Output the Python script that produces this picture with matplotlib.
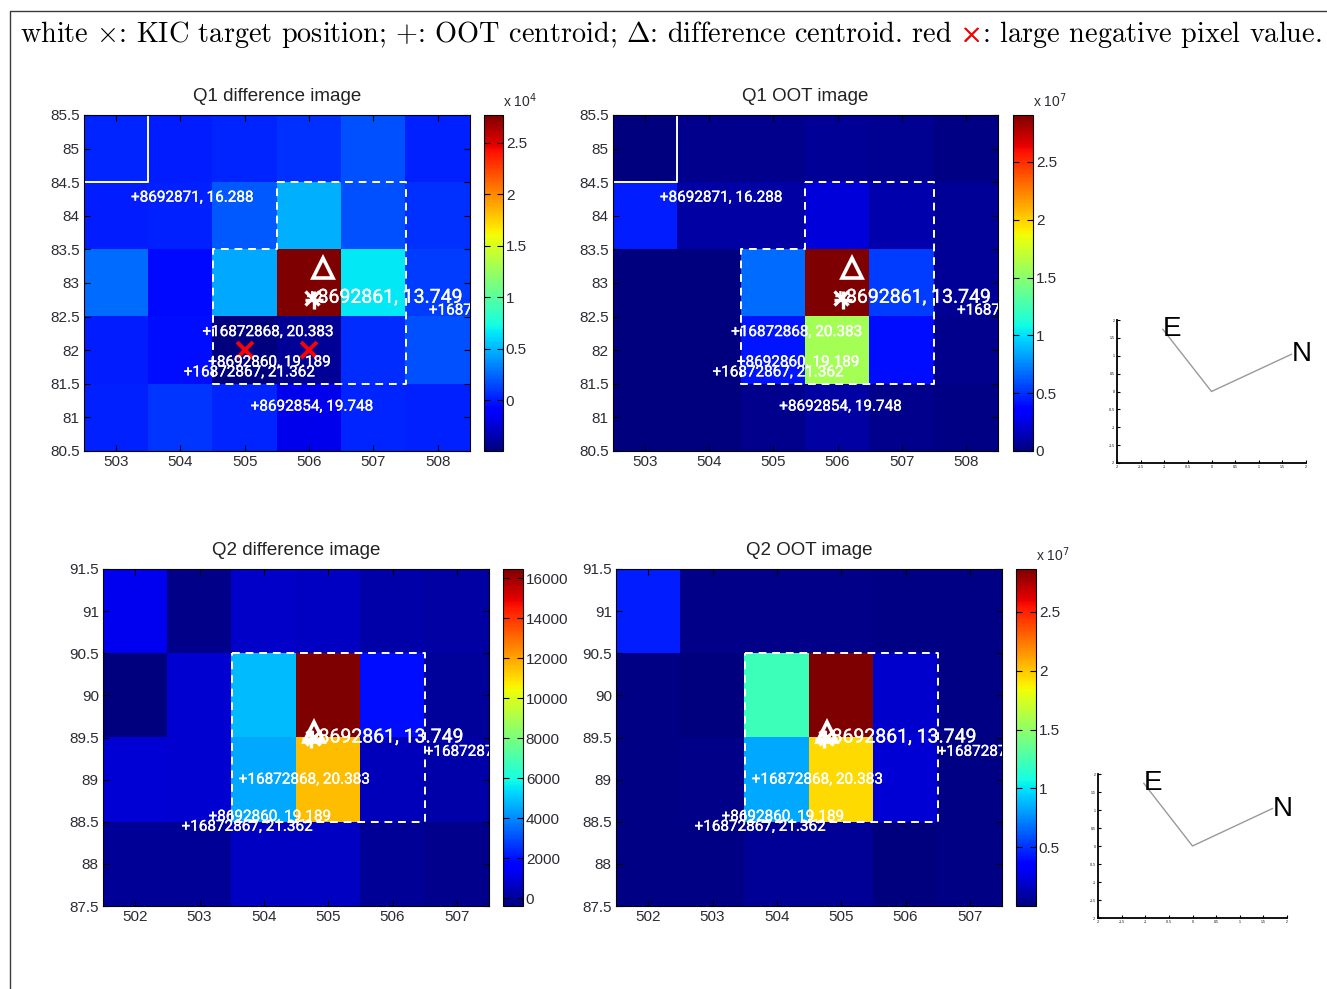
import numpy as np
import matplotlib
matplotlib.use("Agg")
import matplotlib.pyplot as plt
from matplotlib import patheffects as pe
from matplotlib.lines import Line2D

# ---------------- data ----------------
q1_cols = [503, 504, 505, 506, 507, 508]
q1_rows = [85, 84, 83, 82, 81]          # top -> bottom
q2_cols = [502, 503, 504, 505, 506, 507]
q2_rows = [91, 90, 89, 88]              # top -> bottom

q1_diff = [
    [400, 100, 400, 700, 1800, 250],
    [100, 250, 2000, 4750, 1700, 700],
    [2700, -600, 4600, 27700, 6650, 1050],
    [100, -400, -4950, -4300, 600, 1700],
    [250, 900, 400, -1800, 400, 250],
]
q1_oot = [
    [80000, 350000, 350000, 640000, 500000, 215000],
    [4480000, 930000, 930000, 2360000, 1220000, 640000],
    [0, 60000, 6770000, 29050000, 5350000, 640000],
    [60000, 80000, 4200000, 15900000, 4000000, 355000],
    [80000, 80000, 350000, 930000, 350000, 215000],
]
q2_diff = [
    [1300, -250, 710, 630, 220, 140],
    [-400, 800, 4850, 16450, 1960, 60],
    [880, 800, 4520, 11550, 460, 220],
    [-30, -30, 630, 630, -30, -190],
]
q2_oot = [
    [4410000, 350000, 350000, 350000, 212000, 212000],
    [212000, 72000, 12100000, 28640000, 2030000, 212000],
    [212000, 350000, 8360000, 19400000, 2180000, 212000],
    [212000, 212000, 630000, 630000, 20000, 212000],
]

# nearby stars (label, x, y)
q1_star_labels = ["+8692871, 16.288", "+16872868, 20.383", "+8692860, 19.189",
                  "+16872867, 21.362", "+8692854, 19.748", "+16872872, 20.95"]
q1_star_x = [503.30, 504.41, 504.50, 504.12, 505.16, 507.93]
q1_star_y = [84.27, 82.27, 81.82, 81.67, 81.16, 82.59]
q2_star_labels = ["+16872868, 20.383", "+8692860, 19.189", "+16872867, 21.362",
                  "+16872872, 20.95"]
q2_star_x = [503.68, 503.21, 502.79, 506.57]
q2_star_y = [89.00, 88.56, 88.44, 89.33]

target_label = "+8692861, 13.749"
q1_target = (506.05, 82.78)
q1_oot_centroid = (506.08, 82.74)
q1_diff_centroid = (506.22, 83.22)
q1_neg_x = [505.0, 506.0]
q1_neg_y = [82.0, 82.0]
q2_target = (504.77, 89.50)
q2_oot_centroid = (504.74, 89.48)
q2_diff_centroid = (504.78, 89.56)

q1_ap_solid_x = [503.5, 503.5, 502.5]
q1_ap_solid_y = [85.5, 84.5, 84.5]
q1_ap_dash_x = [505.5, 507.5, 507.5, 504.5, 504.5, 505.5, 505.5]
q1_ap_dash_y = [84.5, 84.5, 81.5, 81.5, 83.5, 83.5, 84.5]
q2_ap_dash_x = [503.5, 506.5, 506.5, 503.5, 503.5]
q2_ap_dash_y = [90.5, 90.5, 88.5, 88.5, 90.5]

compass_e = (-1.03, 1.74)
compass_n = (1.69, 1.04)

# ---------------- figure ----------------
W, H = 1327, 989
plt.rcParams["font.family"] = ["Liberation Sans", "DejaVu Sans"]
fig = plt.figure(figsize=(W / 100, H / 100), dpi=100)


def rect(x0, y0, x1, y1):
    return [x0 / W, 1 - y1 / H, (x1 - x0) / W, (y1 - y0) / H]


# background overlay with frame + header
bg = fig.add_axes([0, 0, 1, 1], zorder=-5)
bg.set_xlim(0, W)
bg.set_ylim(H, 0)
bg.axis("off")
bg.add_line(Line2D([9.5, 9.5, W + 5], [H + 5, 10.5, 10.5], color="#3a3a3a", lw=1.0))

hdr = ("white $\\times$: KIC target position; $+$: OOT centroid; "
       "$\\Delta$: difference centroid. red $\\times$: large negative pixel value.")
pre = "white $\\times$: KIC target position; $+$: OOT centroid; $\\Delta$: difference centroid. red $\\times$"
hdr_kw = dict(fontfamily="cmr10", math_fontfamily="cm", fontsize=18, va="baseline", ha="left")
x0, yb = 20, 42
t_full = bg.text(x0, yb, hdr, color="black", **hdr_kw)
fig.canvas.draw()
r = fig.canvas.get_renderer()
wfull = t_full.get_window_extent(r).width
target_w = 1302.0
fs = 18 * target_w / wfull
t_full.set_fontsize(fs)
hdr_kw["fontsize"] = fs
tp = bg.text(x0, yb, pre, alpha=0, **hdr_kw)
tx = bg.text(x0, yb, "$\\times$", alpha=0, **hdr_kw)
fig.canvas.draw()
wp = tp.get_window_extent(r).width
wx = tx.get_window_extent(r).width
bg.text(x0 + wp - wx, yb, "$\\times$", color="red",
        path_effects=[pe.withStroke(linewidth=0.5, foreground="red")], **hdr_kw)

lab_font = dict(fontfamily=["Roboto", "DejaVu Sans"], color="white",
                path_effects=[pe.withStroke(linewidth=0.25, foreground="white")])


def panel(ax_r, cax_r, data, cols, rows, title, cticks, clabels, scale_txt,
          star_labels, sx, sy, target, oot_c, diff_c, dash_x, dash_y,
          solid=None, neg=None):
    ax = fig.add_axes(ax_r)
    cax = fig.add_axes(cax_r)
    arr = np.array(data, dtype=float)
    vmin, vmax = arr.min(), arr.max()
    ext = [cols[0] - 0.5, cols[-1] + 0.5, rows[-1] - 0.5, rows[0] + 0.5]
    im = ax.imshow(arr, cmap="jet", vmin=vmin, vmax=vmax, extent=ext,
                   origin="upper", aspect="auto", interpolation="nearest")
    ax.set_xlim(ext[0], ext[1])
    ax.set_ylim(ext[2], ext[3])
    ax.set_xticks(cols)
    ax.set_xticklabels([str(c) for c in cols])
    yt = np.arange(ext[2], ext[3] + 0.01, 0.5)
    ax.set_yticks(yt)
    ax.set_yticklabels(["%g" % v for v in yt])
    ax.tick_params(direction="in", top=True, right=True, length=4, width=0.8,
                   labelsize=11, labelcolor="#2b2b33", pad=3)
    for s in ax.spines.values():
        s.set_linewidth(0.8)
    ax.set_title(title, fontsize=13.5, pad=10, color="#222222")

    ax.plot(dash_x, dash_y, color="white", lw=1.4, ls=(0, (4, 3)))
    if solid is not None:
        ax.plot(solid[0], solid[1], color="white", lw=1.4)

    for lab, x, y in zip(star_labels, sx, sy):
        ax.annotate(lab, (x, y), xytext=(-3.2, 0), textcoords="offset points",
                    ha="left", va="center", fontsize=11, clip_on=True,
                    annotation_clip=False, **lab_font)
    ax.annotate(target_label, target, xytext=(-4.2, 0), textcoords="offset points",
                ha="left", va="center", fontsize=14, clip_on=True,
                annotation_clip=False, **lab_font)
    ax.plot(*target, marker="x", color="white", ms=10, mew=2.4)
    ax.plot(*oot_c, marker="+", color="white", ms=13, mew=2.4)
    ax.plot(*diff_c, marker="^", mfc="none", mec="white", ms=15, mew=2.6)
    if neg is not None:
        ax.plot(neg[0], neg[1], ls="none", marker="x", color="red", ms=12, mew=2.8)

    cb = fig.colorbar(im, cax=cax, ticks=cticks)
    cb.ax.set_yticklabels(clabels)
    cb.outline.set_linewidth(0.8)
    cax.tick_params(direction="in", left=True, right=True, length=4, width=0.8,
                    labelsize=11, labelcolor="#2b2b33", pad=2)
    if scale_txt:
        cax.text(1.0, 1.015, scale_txt, transform=cax.transAxes, ha="left",
                 va="bottom", fontsize=10, color="#2b2b33")
    return ax


panel(rect(84, 115, 470, 451), rect(484, 115, 503, 451), q1_diff, q1_cols, q1_rows,
      "Q1 difference image", [0, 5000, 10000, 15000, 20000, 25000],
      ["0", "0.5", "1", "1.5", "2", "2.5"], "x 10$^4$",
      q1_star_labels, q1_star_x, q1_star_y, q1_target, q1_oot_centroid,
      q1_diff_centroid, q1_ap_dash_x, q1_ap_dash_y,
      solid=(q1_ap_solid_x, q1_ap_solid_y), neg=(q1_neg_x, q1_neg_y))

panel(rect(613, 115, 998, 451), rect(1013, 115, 1033, 451), q1_oot, q1_cols, q1_rows,
      "Q1 OOT image", [0, 0.5e7, 1e7, 1.5e7, 2e7, 2.5e7],
      ["0", "0.5", "1", "1.5", "2", "2.5"], "x 10$^7$",
      q1_star_labels, q1_star_x, q1_star_y, q1_target, q1_oot_centroid,
      q1_diff_centroid, q1_ap_dash_x, q1_ap_dash_y,
      solid=(q1_ap_solid_x, q1_ap_solid_y))

panel(rect(103, 569, 489, 906), rect(503, 569, 523, 906), q2_diff, q2_cols, q2_rows,
      "Q2 difference image", list(range(0, 16001, 2000)),
      [str(v) for v in range(0, 16001, 2000)], None,
      q2_star_labels, q2_star_x, q2_star_y, q2_target, q2_oot_centroid,
      q2_diff_centroid, q2_ap_dash_x, q2_ap_dash_y)

panel(rect(616, 569, 1002, 906), rect(1016, 569, 1036, 906), q2_oot, q2_cols, q2_rows,
      "Q2 OOT image", [0.5e7, 1e7, 1.5e7, 2e7, 2.5e7],
      ["0.5", "1", "1.5", "2", "2.5"], "x 10$^7$",
      q2_star_labels, q2_star_x, q2_star_y, q2_target, q2_oot_centroid,
      q2_diff_centroid, q2_ap_dash_x, q2_ap_dash_y)


def compass(r_):
    ax = fig.add_axes(r_)
    ax.set_xlim(-2, 2)
    ax.set_ylim(-2, 2)
    ax.plot([compass_e[0], 0, compass_n[0]], [compass_e[1], 0, compass_n[1]],
            color="0.6", lw=1.0)
    ax.text(compass_e[0], compass_e[1], "E", ha="left", va="center", fontsize=20)
    ax.text(compass_n[0], compass_n[1], "N", ha="left", va="center", fontsize=20)
    tk = np.arange(-2, 2.01, 0.5)
    ax.set_xticks(tk)
    ax.set_yticks(tk)
    ax.set_xticklabels(["%g" % v for v in tk])
    ax.set_yticklabels(["%g" % v for v in tk])
    ax.tick_params(direction="in", length=2.5, width=0.8, labelsize=2.5, pad=1.5)
    for s in ("top", "right"):
        ax.spines[s].set_visible(False)
    for s in ("left", "bottom"):
        ax.spines[s].set_linewidth(1.3)
    ax.patch.set_alpha(0)


compass(rect(1117, 320, 1306, 463))
compass(rect(1098, 774, 1287, 918))

fig.savefig("out.png", dpi=100)
